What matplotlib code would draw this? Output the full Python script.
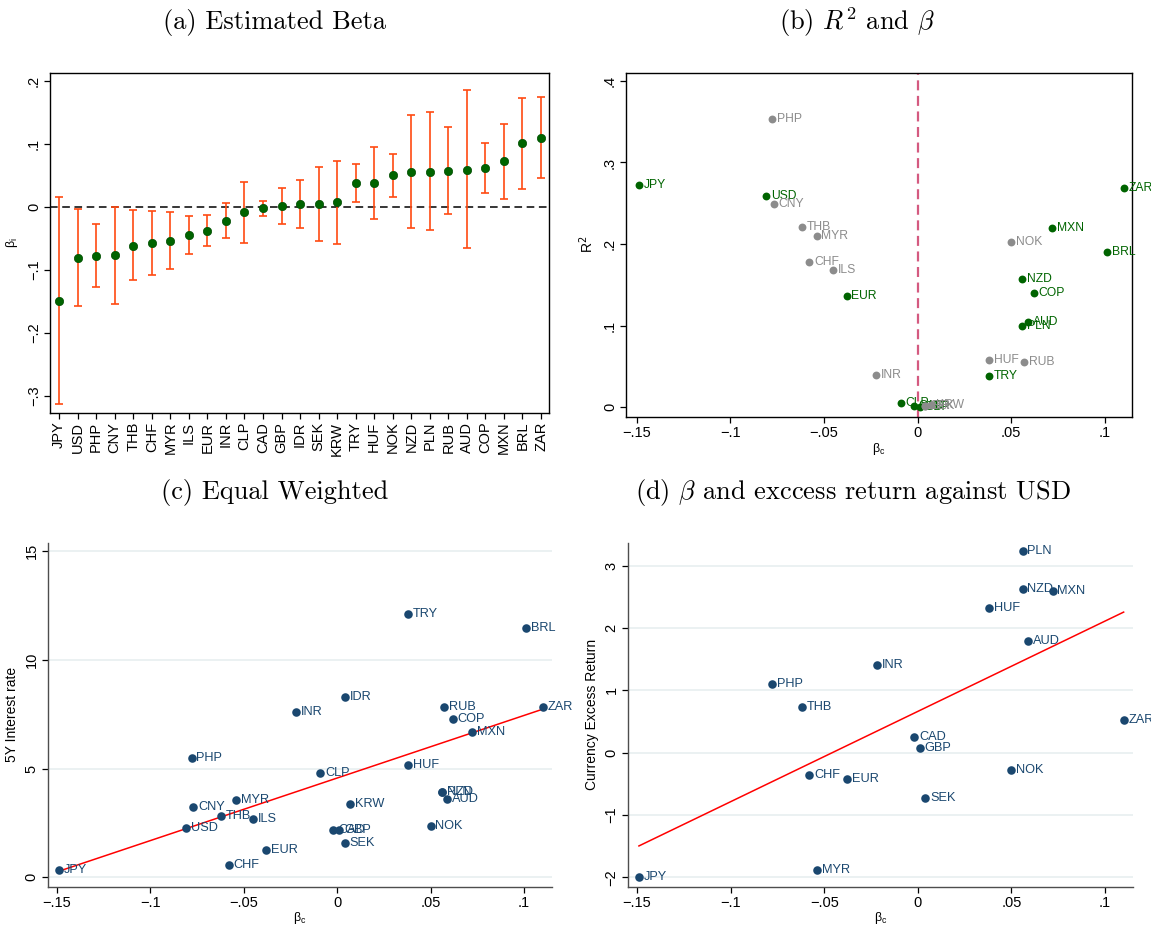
import numpy as np
import matplotlib
matplotlib.use('Agg')
import matplotlib.pyplot as plt

# ---------------- data ----------------
currencies = ['JPY', 'USD', 'PHP', 'CNY', 'THB', 'CHF', 'MYR', 'ILS', 'EUR', 'INR',
              'CLP', 'CAD', 'GBP', 'IDR', 'SEK', 'KRW', 'TRY', 'HUF', 'NOK', 'NZD',
              'PLN', 'RUB', 'AUD', 'COP', 'MXN', 'BRL', 'ZAR']
beta = [-0.149, -0.081, -0.078, -0.077, -0.062, -0.058, -0.054, -0.045, -0.038, -0.022,
        -0.009, -0.002, 0.001, 0.004, 0.004, 0.007, 0.038, 0.038, 0.050, 0.056,
        0.056, 0.057, 0.059, 0.062, 0.072, 0.101, 0.110]
ci_low = [-0.313, -0.158, -0.127, -0.154, -0.117, -0.109, -0.098, -0.075, -0.063, -0.050,
          -0.058, -0.014, -0.028, -0.034, -0.055, -0.059, 0.008, -0.019, 0.016, -0.034,
          -0.037, -0.011, -0.066, 0.022, 0.012, 0.028, 0.045]
ci_high = [0.015, -0.003, -0.028, 0.000, -0.005, -0.007, -0.009, -0.015, -0.013, 0.006,
           0.040, 0.009, 0.030, 0.042, 0.063, 0.073, 0.068, 0.095, 0.084, 0.146,
           0.150, 0.126, 0.185, 0.102, 0.132, 0.173, 0.175]
r_squared = [0.272, 0.259, 0.353, 0.249, 0.221, 0.178, 0.210, 0.168, 0.136, 0.039,
             0.005, 0.001, 0.000, 0.001, 0.002, 0.003, 0.038, 0.058, 0.202, 0.157,
             0.100, 0.056, 0.104, 0.140, 0.220, 0.190, 0.269]
green_group = ['JPY', 'USD', 'EUR', 'CLP', 'CAD', 'GBP', 'TRY', 'NZD', 'PLN', 'AUD',
               'COP', 'MXN', 'BRL', 'ZAR']
rate_5y = [0.35, 2.25, 5.48, 3.23, 2.83, 0.57, 3.57, 2.68, 1.27, 7.61,
           4.81, 2.16, 2.16, 8.30, 1.56, 3.39, 12.12, 5.18, 2.37, 3.92,
           3.92, 7.81, 3.62, 7.28, 6.70, 11.46, 7.81]

ret_currencies = ['PLN', 'NZD', 'MXN', 'HUF', 'AUD', 'INR', 'PHP', 'THB', 'ZAR',
                  'CAD', 'GBP', 'NOK', 'CHF', 'EUR', 'SEK', 'MYR', 'JPY']
excess_return = [3.23, 2.63, 2.60, 2.32, 1.80, 1.41, 1.10, 0.74, 0.52,
                 0.26, 0.08, -0.28, -0.36, -0.42, -0.73, -1.89, -1.99]

xticks_beta = [-0.15, -0.1, -0.05, 0, 0.05, 0.1]
xticklabels_beta = ['\u2212.15', '\u2212.1', '\u2212.05', '0', '.05', '.1']
yticks_a = [-0.3, -0.2, -0.1, 0, 0.1, 0.2]
yticklabels_a = ['\u2212.3', '\u2212.2', '\u2212.1', '0', '.1', '.2']
yticks_b = [0, 0.1, 0.2, 0.3, 0.4]
yticklabels_b = ['0', '.1', '.2', '.3', '.4']
yticks_c = [0, 5, 10, 15]
yticklabels_c = ['0', '5', '10', '15']
yticks_d = [-2, -1, 0, 1, 2, 3]
yticklabels_d = ['\u22122', '\u22121', '0', '1', '2', '3']

titles = ['(a) Estimated Beta', r'(b) $R^2$ and $\beta$', '(c) Equal Weighted',
          r'(d) $\beta$ and exccess return against USD']

# ---------------- style ----------------
plt.rcParams['font.family'] = ['Liberation Sans', 'DejaVu Sans']
plt.rcParams['mathtext.fontset'] = 'dejavusans'
W, H = 1151, 926
fig = plt.figure(figsize=(W / 100, H / 100), dpi=100)

def ax_at(l, r, t, b):
    return fig.add_axes([l / W, 1 - b / H, (r - l) / W, (b - t) / H])

TICK_FS = 10.5
LABEL_FS = 8.7
GREEN = '#006400'
GRAY = '#8c8c8c'
NAVY = '#1a476f'
ORANGE = '#ff4a12'
BETA_C = r'$\mathregular{\beta_c}$'
BETA_I = r'$\mathregular{\beta_i}$'

def style_ticks(ax):
    ax.tick_params(axis='both', direction='out', length=4, width=0.9,
                   labelsize=TICK_FS, pad=2.5, color='black')
    for lab in ax.get_yticklabels():
        lab.set_rotation(90)
        lab.set_va('center')

# ---------------- (a) ----------------
axa = ax_at(50, 549, 72.7, 412.7)
xpos = np.arange(len(currencies))
b = np.array(beta)
lo = b - np.array(ci_low)
hi = np.array(ci_high) - b
axa.errorbar(xpos, b, yerr=[lo, hi], fmt='none', ecolor=ORANGE, elinewidth=1.2,
             capsize=2.6, capthick=1.2, zorder=2)
axa.scatter(xpos, b, s=36, color=GREEN, edgecolors='#004d00', linewidths=0.5, zorder=3)
axa.axhline(0, color='black', lw=1.1, ls=(0, (5, 3)), zorder=1)
axa.set_xlim(-0.49, 26.43)
axa.set_ylim(-0.327, 0.213)
axa.set_xticks(xpos)
axa.set_xticklabels(currencies, rotation=90, fontsize=TICK_FS)
axa.set_yticks(yticks_a)
axa.set_yticklabels(yticklabels_a)
style_ticks(axa)
axa.set_ylabel(BETA_I, fontsize=9, labelpad=5)
for sp in axa.spines.values():
    sp.set_linewidth(1.0)

# ---------------- (b) ----------------
axb = ax_at(626, 1132, 72.7, 416.7)
axb.axvline(0, color='#d45a80', lw=1.6, ls=(0, (4.5, 2.5)), zorder=1)
for c, x, y in zip(currencies, beta, r_squared):
    col = GREEN if c in green_group else GRAY
    axb.scatter([x], [y], s=32, color=col, zorder=3, linewidths=0)
    axb.annotate(c, (x, y), xytext=(3.5, 0), textcoords='offset points',
                 va='center', ha='left', fontsize=LABEL_FS, color=col,
                 annotation_clip=False, clip_on=False)
axb.set_xlim(-0.1558, 0.1145)
axb.set_ylim(-0.0115, 0.41)
axb.set_xticks(xticks_beta)
axb.set_xticklabels(xticklabels_beta)
axb.set_yticks(yticks_b)
axb.set_yticklabels(yticklabels_b)
style_ticks(axb)
axb.set_xlabel(BETA_C, fontsize=9, labelpad=1)
axb.set_ylabel(r'R$^2$', fontsize=10, labelpad=5)
for sp in axb.spines.values():
    sp.set_linewidth(1.0)

# ---------------- (c) & (d) ----------------
def scatter_panel(ax, names, xs, ys, xlim, ylim, yt, ytl, ylabel):
    xs = np.array(xs)
    ys = np.array(ys)
    for yv in yt:
        ax.axhline(yv, color='#e8eff0', lw=1.2, zorder=0)
    slope, inter = np.polyfit(xs, ys, 1)
    xl = np.array([xs.min(), xs.max()])
    ax.plot(xl, inter + slope * xl, color='red', lw=1.1, zorder=2)
    ax.scatter(xs, ys, s=38, color=NAVY, zorder=3, linewidths=0)
    for n, x, y in zip(names, xs, ys):
        ax.annotate(n, (x, y), xytext=(3.5, 0), textcoords='offset points',
                    va='center', ha='left', fontsize=LABEL_FS + 0.5, color=NAVY,
                    annotation_clip=False, clip_on=False, zorder=4)
    ax.set_xlim(*xlim)
    ax.set_ylim(*ylim)
    ax.set_xticks(xticks_beta)
    ax.set_xticklabels(xticklabels_beta)
    ax.set_yticks(yt)
    ax.set_yticklabels(ytl)
    style_ticks(ax)
    ax.spines['top'].set_visible(False)
    ax.spines['right'].set_visible(False)
    for s in ('left', 'bottom'):
        ax.spines[s].set_color('#4d4d4d')
        ax.spines[s].set_linewidth(1.0)
    ax.set_xlabel(BETA_C, fontsize=9, labelpad=0)
    ax.set_ylabel(ylabel, fontsize=10, labelpad=4)

axc = ax_at(47.7, 552, 542.7, 886.7)
scatter_panel(axc, currencies, beta, rate_5y, (-0.155, 0.115), (-0.43, 15.38),
              yticks_c, yticklabels_c, '5Y Interest rate')

axd = ax_at(627.7, 1133, 542.7, 886.7)
ret_beta = [beta[currencies.index(c)] for c in ret_currencies]
scatter_panel(axd, ret_currencies, ret_beta, excess_return, (-0.155, 0.115),
              (-2.15, 3.37), yticks_d, yticklabels_d, 'Currency Excess Return')

# ---------------- titles ----------------
title_pos = [(274.5, 22), (857, 22), (275, 492), (853, 492)]
for t, (x, y) in zip(titles, title_pos):
    fig.text(x / W, 1 - y / H, t, ha='center', va='center', fontsize=19,
             family='cmr10', math_fontfamily='cm')

fig.savefig('out.png', dpi=100)
